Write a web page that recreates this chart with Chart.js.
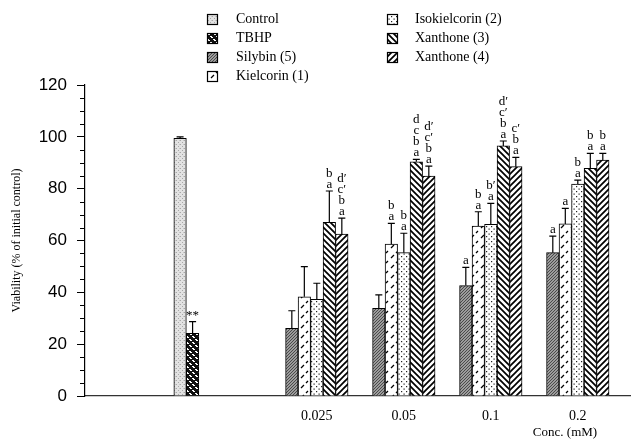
<!DOCTYPE html>
<html><head><meta charset="utf-8">
<script src="https://cdn.jsdelivr.net/npm/chart.js@4/dist/chart.umd.min.js"></script>
<style>html,body{margin:0;padding:0;background:#fff}#wrap{width:637px;height:442px;position:relative}</style>
</head><body><div id="wrap"><canvas id="c" width="637" height="442"></canvas></div>
<script>
// ---------- data ----------
const groups = ['', '0.025', '0.05', '0.1', '0.2'];      // x categories (first = control group, unlabeled)
const groupSlots = [0, 3, 5, 7, 9];                       // category slots on the concentration axis
const seriesNames = ['Control', 'TBHP', 'Silybin (5)', 'Kielcorin (1)', 'Isokielcorin (2)', 'Xanthone (3)', 'Xanthone (4)'];

const control     = [99.4, null, null, null, null];
const tbhp        = [24.2, null, null, null, null];
const silybin     = [null, 26.1, 33.8, 42.6, 55.3];
const kielcorin   = [null, 38.3, 58.6, 65.6, 66.4];
const isokielcorin= [null, 37.3, 55.3, 66.2, 81.8];
const xanthone3   = [null, 67.0, 90.4, 96.5, 87.8];
const xanthone4   = [null, 62.5, 84.9, 88.5, 91.0];

const controlErr  = [0.6, null, null, null, null];
const tbhpErr     = [4.5, null, null, null, null];
const silybinErr  = [null, 6.8, 5.2, 7.0, 6.4];
const kielcorinErr= [null, 11.6, 8.0, 5.5, 6.0];
const isoErr      = [null, 6.2, 7.5, 8.1, 1.5];
const x3Err       = [null, 12.1, 0.9, 1.9, 5.8];
const x4Err       = [null, 6.1, 3.8, 3.6, 2.6];

// significance marks, listed bottom to top
const controlMarks  = [[], null, null, null, null];
const tbhpMarks     = [['**'], null, null, null, null];
const silybinMarks  = [null, [], [], ['a'], ['a']];
const kielcorinMarks= [null, [], ['a','b'], ['a','b'], ['a']];
const isoMarks      = [null, [], ['a','b'], ['a','b′'], ['a','b']];
const x3Marks       = [null, ['a','b'], ['a','b','c','d'], ['a','b','c′','d′'], ['a','b']];
const x4Marks       = [null, ['a','b','c′','d′'], ['a','b','c′','d′'], ['a','b','c′'], ['a','b']];

const yTicksMajor = [0, 20, 40, 60, 80, 100, 120];
const xTitle = 'Conc. (mM)';
const yTitle = 'Viability (% of initial control)';

// ---------- patterns ----------
const canvas = document.getElementById('c');
const mainCtx = canvas.getContext('2d');
function tile(size, draw) {
  const c = document.createElement('canvas');
  c.width = size; c.height = size;
  const g = c.getContext('2d');
  draw(g, size);
  return mainCtx.createPattern(c, 'repeat');
}
const patterns = [
  tile(4, (g) => { g.fillStyle = '#e2e2e2'; g.fillRect(0,0,4,4); g.fillStyle = '#a8a8a8'; g.fillRect(0,0,1,1); g.fillRect(2,2,1,1); g.fillStyle='#c8c8c8'; g.fillRect(3,0,1,1);}),
  tile(6, (g) => { g.fillStyle = '#111'; g.fillRect(0,0,6,6); g.fillStyle = '#fff'; g.fillRect(0,0,2,1); g.fillRect(1,1,2,1); g.fillRect(3,3,2,1); g.fillRect(4,4,2,1); }),
  tile(3, (g) => { g.fillStyle = '#9c9c9c'; g.fillRect(0,0,3,3); g.fillStyle = '#4a4a4a'; g.fillRect(0,0,1,1); g.fillRect(2,1,1,1); g.fillRect(1,2,1,1); }),
  tile(10, (g) => { g.fillStyle = '#fff'; g.fillRect(0,0,10,10); g.strokeStyle = '#000'; g.lineWidth = 1.3; g.beginPath(); g.moveTo(1,8); g.lineTo(4,5); g.moveTo(6,3); g.lineTo(8,1); g.stroke(); }),
  tile(5, (g) => { g.fillStyle = '#fff'; g.fillRect(0,0,5,5); g.fillStyle = '#222'; g.fillRect(1,1,1.2,1.2); g.fillRect(3.5,3.5,1.2,1.2); }),
  tile(6, (g) => { g.fillStyle = '#fff'; g.fillRect(0,0,6,6); g.strokeStyle = '#000'; g.lineWidth = 1.7; g.beginPath(); g.moveTo(-1,-1); g.lineTo(7,7); g.moveTo(-1,5); g.lineTo(1,7); g.moveTo(5,-1); g.lineTo(7,1); g.stroke(); }),
  tile(6, (g) => { g.fillStyle = '#fff'; g.fillRect(0,0,6,6); g.strokeStyle = '#000'; g.lineWidth = 1.7; g.beginPath(); g.moveTo(-1,7); g.lineTo(7,-1); g.moveTo(-1,1); g.lineTo(1,-1); g.moveTo(5,7); g.lineTo(7,5); g.stroke(); })
];

const values = [control, tbhp, silybin, kielcorin, isokielcorin, xanthone3, xanthone4];
const errs   = [controlErr, tbhpErr, silybinErr, kielcorinErr, isoErr, x3Err, x4Err];
const marks  = [controlMarks, tbhpMarks, silybinMarks, kielcorinMarks, isoMarks, x3Marks, x4Marks];

const datasets = seriesNames.map((name, i) => ({
  label: name,
  data: values[i].map((v, j) => ({ x: groupSlots[j], y: v })),
  backgroundColor: patterns[i],
  borderColor: '#000',
  borderWidth: 1,
  barThickness: 12.5,
  skipNull: true,
  errors: errs[i],
  marks: marks[i]
}));

const SERIF = '"Liberation Serif", "DejaVu Serif", serif';

const extras = {
  id: 'extras',
  afterDatasetsDraw(chart) {
    const ctx = chart.ctx, ys = chart.scales.y;
    ctx.save();
    chart.data.datasets.forEach((ds, i) => {
      const meta = chart.getDatasetMeta(i);
      meta.data.forEach((bar, j) => {
        const v = values[i][j];
        if (v == null) return;
        const e = ds.errors[j] || 0;
        const yTop = ys.getPixelForValue(v + e);
        ctx.strokeStyle = '#000'; ctx.lineWidth = 1.2;
        ctx.beginPath();
        ctx.moveTo(bar.x, bar.y); ctx.lineTo(bar.x, yTop);
        ctx.moveTo(bar.x - 3.5, yTop); ctx.lineTo(bar.x + 3.5, yTop);
        ctx.stroke();
        const m = ds.marks[j] || [];
        ctx.fillStyle = '#000';
        ctx.font = '13px ' + SERIF;
        ctx.textAlign = 'center'; ctx.textBaseline = 'alphabetic';
        m.forEach((s, k) => {
          ctx.fillText(s, bar.x, yTop - 3 - k * 11);
        });
      });
    });
    ctx.restore();
  },
  afterDraw(chart) {
    const ctx = chart.ctx, ys = chart.scales.y, area = chart.chartArea;
    ctx.save();
    // minor ticks
    ctx.strokeStyle = '#000'; ctx.lineWidth = 1;
    for (let v = 0; v <= 120; v += 5) {
      if (v % 20 === 0) continue;
      const y = Math.round(ys.getPixelForValue(v)) + 0.5;
      ctx.beginPath(); ctx.moveTo(area.left - 5, y); ctx.lineTo(area.left, y); ctx.stroke();
    }
    // x title
    ctx.fillStyle = '#000';
    ctx.font = '13px ' + SERIF;
    ctx.textAlign = 'center'; ctx.textBaseline = 'middle';
    ctx.fillText(xTitle, 565, 433);
    // legend
    const cols = [{ix: 207, tx: 236}, {ix: 387, tx: 415}];
    const order = [[0,1,2,3],[4,5,6]];
    const rowY = [19, 38, 57, 76];
    ctx.font = '14px ' + SERIF;
    ctx.textAlign = 'left';
    order.forEach((list, c) => {
      list.forEach((di, r) => {
        const y = rowY[r];
        ctx.fillStyle = patterns[di];
        ctx.fillRect(cols[c].ix, y - 5, 10, 10);
        ctx.strokeStyle = '#000'; ctx.lineWidth = 1.2;
        ctx.strokeRect(cols[c].ix + 0.5, y - 4.5, 10, 10);
        ctx.fillStyle = '#000';
        ctx.fillText(seriesNames[di], cols[c].tx, y);
      });
    });
    ctx.restore();
  }
};

new Chart(canvas, {
  type: 'bar',
  data: { datasets },
  options: {
    responsive: false,
    animation: false,
    layout: { padding: { top: 85, right: 7, left: 0, bottom: 0 } },
    plugins: { legend: { display: false }, tooltip: { enabled: false } },
    scales: {
      x: {
        type: 'linear',
        offset: false,
        min: -2.33, max: 10.2,
        grid: { display: false, drawTicks: false, offset: false },
        border: { display: true, color: '#333', width: 1.2 },
        afterBuildTicks: (s) => { s.ticks = groupSlots.slice(1).map(v => ({ value: v })); },
        afterFit: (s) => { s.height = 46; },
        ticks: {
          padding: 12, color: '#000', autoSkip: false, maxRotation: 0,
          font: { family: SERIF, size: 14 },
          callback: (v) => groups[groupSlots.indexOf(v)]
        }
      },
      y: {
        min: 0, max: 120,
        afterBuildTicks: (s) => { s.ticks = yTicksMajor.map(v => ({ value: v })); },
        afterFit: (s) => { s.width = 85; },
        grid: { display: true, drawOnChartArea: false, drawTicks: true, tickLength: 8, tickColor: '#000', tickWidth: 1 },
        border: { display: true, color: '#000', width: 1.2 },
        ticks: { padding: 10, color: '#000', font: { family: '"Liberation Sans", Arial, sans-serif', size: 17 } },
        title: { display: true, text: yTitle, color: '#000', font: { family: SERIF, size: 12 }, padding: { top: 10, bottom: 0 } }
      }
    }
  },
  plugins: [extras]
});
</script>
</body></html>
